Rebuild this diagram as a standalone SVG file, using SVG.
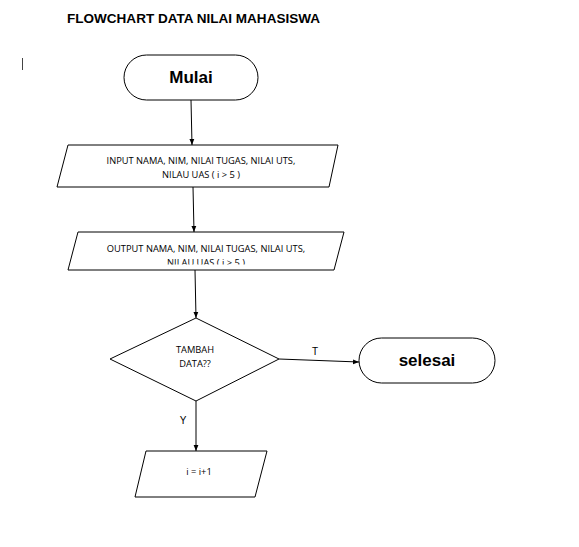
<svg xmlns="http://www.w3.org/2000/svg" width="579" height="547" viewBox="0 0 579 547">
<style>
.shape{fill:#fff;stroke:#000;stroke-width:1}
.conn{stroke:#000;stroke-width:1;fill:none}
.small{font-family:"Open Sans","Liberation Sans",sans-serif;font-size:9.3px;fill:#000;text-anchor:middle}
.term{font-family:"Liberation Sans",Arial,sans-serif;font-weight:bold;font-size:17px;fill:#000;text-anchor:middle}
.lbl{font-family:"Liberation Sans",Arial,sans-serif;font-size:10px;fill:#000;text-anchor:middle}
</style>
<defs>
<marker id="arr" viewBox="0 0 10 10" refX="10" refY="5" markerWidth="6" markerHeight="6" orient="auto">
<path d="M0,1 L10,5 L0,9 z" fill="#000"/>
</marker>
<clipPath id="outclip"><rect x="60" y="232" width="290" height="32.5"/></clipPath>
</defs>
<rect width="579" height="547" fill="#fff"/>
<text x="67" y="23" font-family="'Liberation Sans',Arial,sans-serif" font-weight="bold" font-size="12.5" textLength="253" lengthAdjust="spacingAndGlyphs">FLOWCHART DATA NILAI MAHASISWA</text>
<line x1="22.5" y1="58" x2="22.5" y2="70" stroke="#444" stroke-width="1"/>
<g id="connectors">
<line class="conn" x1="191" y1="100" x2="192" y2="145" marker-end="url(#arr)"/>
<line class="conn" x1="193" y1="187" x2="194" y2="232" marker-end="url(#arr)"/>
<line class="conn" x1="195" y1="270" x2="196" y2="318" marker-end="url(#arr)"/>
<line class="conn" x1="279" y1="359" x2="359" y2="362" marker-end="url(#arr)"/>
<line class="conn" x1="196" y1="401" x2="196" y2="451" marker-end="url(#arr)"/>
<text class="lbl" x="315" y="355">T</text>
<text class="lbl" x="183" y="424">Y</text>
</g>
<g id="mulai">
<rect class="shape" x="124" y="55" width="134" height="45" rx="22.5"/>
<text class="term" x="191" y="83">Mulai</text>
</g>
<g id="input">
<polygon class="shape" points="68,145 338,145 329,187 57,187"/>
<text class="small" x="201" y="164">INPUT NAMA, NIM, NILAI TUGAS, NILAI UTS,</text>
<text class="small" x="201" y="178">NILAU UAS ( i &gt; 5 )</text>
</g>
<g id="output">
<polygon class="shape" points="78,232 344,232 334,270 68,270"/>
<text class="small" x="206" y="252">OUTPUT NAMA, NIM, NILAI TUGAS, NILAI UTS,</text>
<text class="small" x="206" y="265.5" clip-path="url(#outclip)">NILAU UAS ( i &gt; 5 )</text>
</g>
<g id="decision">
<polygon class="shape" points="196,318 279,359 196,401 110,359"/>
<text class="small" x="195" y="353">TAMBAH</text>
<text class="small" x="195" y="367">DATA??</text>
</g>
<g id="selesai">
<rect class="shape" x="359" y="338" width="136" height="45" rx="22.5"/>
<text class="term" x="427" y="366">selesai</text>
</g>
<g id="increment">
<polygon class="shape" points="146,451 267,451 255,497 135,497"/>
<text class="small" x="199" y="475">i = i+1</text>
</g>
</svg>
